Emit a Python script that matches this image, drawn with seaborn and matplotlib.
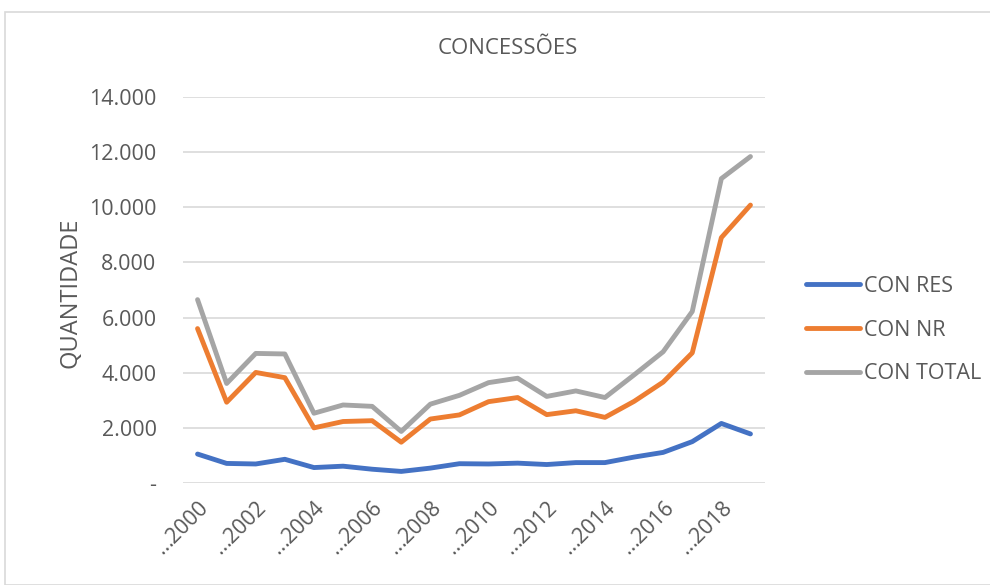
import matplotlib
matplotlib.use("Agg")
import matplotlib.pyplot as plt
from matplotlib.lines import Line2D
import seaborn as sns
import pandas as pd

years = [str(y) for y in range(2000, 2020)]
con_res = [1050, 710, 690, 860, 560, 610, 500, 420, 540, 700,
           690, 720, 670, 740, 740, 940, 1110, 1500, 2160, 1780]
con_nr = [5600, 2930, 4010, 3820, 2000, 2230, 2260, 1480, 2320, 2470,
          2950, 3100, 2480, 2620, 2380, 2960, 3660, 4720, 8900, 10080]
con_total = [6650, 3610, 4700, 4680, 2530, 2830, 2780, 1870, 2860, 3180,
             3640, 3800, 3140, 3340, 3100, 3920, 4760, 6220, 11040, 11840]
series_names = ["CON RES", "CON NR", "CON TOTAL"]
colors = ["#4472C4", "#ED7D31", "#A5A5A5"]
yticks = [0, 2000, 4000, 6000, 8000, 10000, 12000, 14000]
ytick_labels = ["-", "2.000", "4.000", "6.000", "8.000", "10.000", "12.000", "14.000"]

df = pd.DataFrame({
    "ano": years * 3,
    "valor": con_res + con_nr + con_total,
    "serie": [series_names[0]] * 20 + [series_names[1]] * 20 + [series_names[2]] * 20,
})
df["pos"] = df["ano"].map({y: i for i, y in enumerate(years)})

sns.set_theme(style="white")
plt.rcParams["font.family"] = ["Open Sans", "DejaVu Sans"]
txt = "#595959"
LW = 3.5

fig = plt.figure(figsize=(9.9, 5.85), dpi=100)
ax = fig.add_axes([183 / 990, 1 - 483 / 585, (765 - 183) / 990, (483 - 97) / 585])

sns.lineplot(data=df, x="pos", y="valor", hue="serie", palette=dict(zip(series_names, colors)),
             linewidth=LW, ax=ax, legend=False, solid_capstyle="round", solid_joinstyle="round")

ax.set_xlim(-0.5, 19.5)
ax.set_ylim(0, 14000)
ax.set_yticks(yticks)
ax.set_yticklabels(ytick_labels, color=txt, fontsize=15.5)
ax.tick_params(axis="y", pad=19, length=0)
xt = list(range(0, 20, 2))
ax.set_xticks(xt)
ax.set_xticklabels(["\u2026" + years[i] for i in xt], rotation=45, ha="right",
                   rotation_mode="anchor", color=txt, fontsize=15.5)
ax.tick_params(axis="x", pad=10, length=0)
ax.yaxis.grid(True, color="#D9D9D9", linewidth=1.2)
ax.xaxis.grid(False)
for s in ax.spines.values():
    s.set_visible(False)
ax.set_xlabel("")
ax.set_ylabel("QUANTIDADE", color=txt, fontsize=17)
ax.yaxis.set_label_coords(-0.172, 0.493)

fig.text(508 / 990, 1 - 48 / 585, "CONCESSÕES", ha="center", va="center", color=txt, fontsize=16)

handles = [Line2D([0], [0], color=c, lw=LW, solid_capstyle="round") for c in colors]
fig.legend(handles, series_names, loc="center left", bbox_to_anchor=(806 / 990, 1 - 330 / 585),
           frameon=False, fontsize=15.5, labelcolor=txt, handlelength=2.5, handletextpad=0.2,
           labelspacing=1.05, borderaxespad=0, borderpad=0)

border = plt.Rectangle((5 / 990, 0), 1, 1 - 12 / 585, transform=fig.transFigure,
                       fill=False, edgecolor="#D9D9D9", linewidth=1.2)
fig.patches.append(border)

fig.savefig("out.png", dpi=100, facecolor="white")
